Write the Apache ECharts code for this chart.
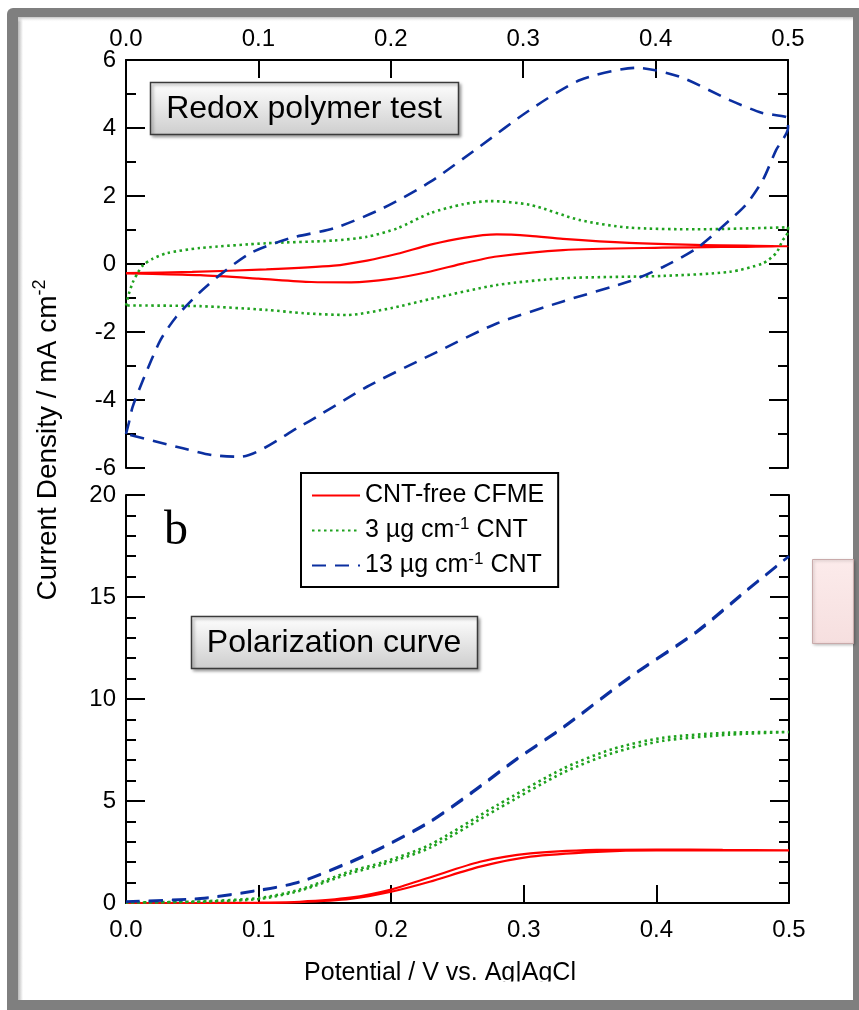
<!DOCTYPE html>
<html>
<head>
<meta charset="utf-8">
<title>Redox polymer test / Polarization curve</title>
<script src="https://cdn.jsdelivr.net/npm/echarts@6/dist/echarts.min.js"></script>
<style>html,body{margin:0;padding:0;background:#fff;}</style>
</head>
<body>
<div id="main" style="width:859px;height:1010px;"></div>
<script type="text/javascript">
// potential (V) vs. current density (mA cm^-2)
// top panel: cyclic voltammograms (forward then reverse scan)
var redCV = [[0,-0.27],[0.05,-0.23],[0.106,-0.16],[0.157,-0.05],[0.182,0.1],[0.205,0.3],[0.23,0.57],[0.255,0.77],[0.28,0.87],[0.305,0.83],[0.33,0.74],[0.38,0.62],[0.43,0.56],[0.5,0.52],
  [0.45,0.5],[0.405,0.48],[0.33,0.41],[0.28,0.22],[0.255,0.02],[0.23,-0.22],[0.2,-0.44],[0.17,-0.54],[0.14,-0.53],[0.1,-0.43],[0.056,-0.33],[0.02,-0.29],[0,-0.28]];
var greenCV = [[0,-1.22],[0.002,-0.9],[0.005,-0.55],[0.009,-0.25],[0.013,-0.03],[0.02,0.15],[0.031,0.32],[0.056,0.47],[0.106,0.61],[0.157,0.69],[0.182,0.8],[0.205,1.05],[0.23,1.5],[0.255,1.76],[0.275,1.85],[0.305,1.74],[0.343,1.29],[0.38,1.07],[0.431,1.02],[0.5,1.08],
  [0.5,0.95],[0.498,0.8],[0.496,0.7],[0.491,0.32],[0.481,0.02],[0.456,-0.23],[0.406,-0.35],[0.33,-0.42],[0.28,-0.62],[0.23,-1.03],[0.2,-1.3],[0.167,-1.5],[0.135,-1.45],[0.106,-1.35],[0.056,-1.24],[0,-1.22]];
var blueCV = [[0,-5.0],[0.002,-4.7],[0.005,-4.2],[0.013,-3.4],[0.026,-2.24],[0.038,-1.55],[0.055,-0.86],[0.07,-0.35],[0.094,0.32],[0.124,0.76],[0.157,1.05],[0.194,1.64],[0.23,2.42],[0.267,3.45],[0.305,4.53],[0.343,5.41],[0.386,5.77],[0.418,5.51],[0.456,4.82],[0.48,4.45],[0.5,4.28],
  [0.5,4.0],[0.491,3.35],[0.481,2.47],[0.469,1.78],[0.456,1.29],[0.431,0.46],[0.406,-0.08],[0.381,-0.5],[0.33,-1.1],[0.28,-1.75],[0.23,-2.68],[0.182,-3.61],[0.131,-4.79],[0.086,-5.67],[0.065,-5.62],[0.043,-5.42],[0,-5.0]];

// bottom panel: polarization curves (out and back)
var redPol = [[0,0],[0.05,0],[0.1,0.02],[0.131,0.06],[0.169,0.26],[0.2,0.66],[0.229,1.25],[0.267,2.02],[0.305,2.43],[0.355,2.6],[0.4,2.62],[0.45,2.6],[0.5,2.58],
  [0.45,2.58],[0.4,2.58],[0.355,2.51],[0.305,2.27],[0.267,1.78],[0.229,1.04],[0.2,0.55],[0.169,0.2],[0.131,0.04],[0.1,0],[0.05,0],[0,0]];
var greenPol = [[0,0.02],[0.056,0.08],[0.101,0.25],[0.131,0.66],[0.169,1.55],[0.194,2.0],[0.229,2.85],[0.28,4.8],[0.33,6.6],[0.367,7.55],[0.405,8.1],[0.455,8.35],[0.5,8.38],
  [0.455,8.25],[0.405,7.95],[0.367,7.35],[0.33,6.4],[0.28,4.6],[0.229,2.7],[0.194,1.9],[0.169,1.45],[0.131,0.6],[0.101,0.2],[0.056,0.06],[0,0.02]];
var bluePol = [[0,0.07],[0.056,0.23],[0.101,0.64],[0.131,1.04],[0.169,2.02],[0.194,2.76],[0.229,3.99],[0.26,5.4],[0.295,7.09],[0.33,8.64],[0.38,11.09],[0.43,13.3],[0.468,15.34],[0.5,17.0],
  [0.468,15.3],[0.43,13.25],[0.38,11.05],[0.33,8.6],[0.295,7.05],[0.26,5.35],[0.229,3.95],[0.194,2.73],[0.169,1.98],[0.131,1.02],[0.101,0.62],[0.056,0.21],[0,0.06]];

var names = ['CNT-free CFME', '3 µg cm-1 CNT', '13 µg cm-1 CNT'];
var colors = ['#ff0000', '#1fa21f', '#0b2fa0'];

var FONT = "'Liberation Sans', Arial, sans-serif";
var myChart = echarts.init(document.getElementById('main'));

function xAx(grid, pos, margin) {
    return {
        type: 'value', gridIndex: grid, position: pos, min: 0, max: 0.5, interval: 0.1,
        axisLine: { onZero: false, lineStyle: { color: '#000', width: 2 } },
        axisTick: { inside: true, length: 18, lineStyle: { color: '#000', width: 2 } },
        axisLabel: { formatter: function (v) { return v.toFixed(1); }, fontSize: 24, fontFamily: FONT, color: '#000', margin: margin },
        splitLine: { show: false }
    };
}
function yAx(grid, pos, min, max, step, minor, labels) {
    return {
        type: 'value', gridIndex: grid, position: pos, min: min, max: max, interval: step,
        axisLine: { onZero: false, lineStyle: { color: '#000', width: 2 } },
        axisTick: { inside: true, length: 19, lineStyle: { color: '#000', width: 2 } },
        minorTick: { show: true, splitNumber: minor, length: 10, lineStyle: { color: '#000', width: 2 } },
        axisLabel: { show: labels, fontSize: 24, fontFamily: FONT, color: '#000', margin: 10 },
        splitLine: { show: false }
    };
}
function ser(i, data, xi, yi) {
    var dash = [null, [2.5, 3.5], [14, 9]][i];
    return {
        name: names[i], type: 'line', data: data, xAxisIndex: xi, yAxisIndex: yi,
        symbol: 'none', showSymbol: false, smooth: 0.25,
        lineStyle: { color: colors[i], width: i === 0 ? 2.2 : 2.6, type: dash || 'solid' },
        itemStyle: { color: colors[i] }
    };
}

var legendFmt = {
    'CNT-free CFME': '{a|CNT-free CFME}',
    '3 µg cm-1 CNT': '{a|3 µg cm}{s|-1}{a| CNT}',
    '13 µg cm-1 CNT': '{a|13 µg cm}{s|-1}{a| CNT}'
};

option = {
    animation: false,
    backgroundColor: '#fff',
    grid: [
        { left: 126, top: 60, width: 662, height: 408 },
        { left: 126, top: 495, width: 663, height: 408 }
    ],
    xAxis: [xAx(0, 'top', 9), xAx(1, 'bottom', 15)],
    yAxis: [
        yAx(0, 'left', -6, 6, 2, 2, true), yAx(0, 'right', -6, 6, 2, 2, false),
        yAx(1, 'left', 0, 20, 5, 5, true), yAx(1, 'right', 0, 20, 5, 5, false)
    ],
    legend: {
        left: 301, top: 473, orient: 'vertical', data: names,
        backgroundColor: '#fff', borderColor: '#000', borderWidth: 2, borderRadius: 0,
        padding: [10, 14, 9, 10], itemGap: 8, itemWidth: 48, itemHeight: 14, itemTextGap: 9,
        itemStyle: { opacity: 0 },
        formatter: function (n) { return legendFmt[n]; },
        textStyle: {
            color: '#000', fontFamily: FONT,
            rich: {
                a: { fontSize: 25, lineHeight: 29, fontFamily: FONT, color: '#000' },
                s: { fontSize: 17, lineHeight: 14, verticalAlign: 'top', fontFamily: FONT, color: '#000' }
            }
        },
        selectedMode: false
    },
    series: [
        ser(0, redCV, 0, 0), ser(1, greenCV, 0, 0), ser(2, blueCV, 0, 0),
        ser(0, redPol, 1, 2), ser(1, greenPol, 1, 2), ser(2, bluePol, 1, 2)
    ],
    graphic: [
        // grey frame and the white page inside it
        { type: 'rect', z: -11, silent: true, shape: { x: 7, y: 8, width: 880, height: 1020, r: 6 }, style: { fill: '#7f7f7f' } },
        { type: 'rect', z: -10, silent: true, shape: { x: 18, y: 17, width: 835, height: 983 }, style: { fill: '#fff' } },
        { type: 'rect', z: -9, silent: true, shape: { x: 18, y: 17, width: 5, height: 983 },
          style: { fill: new echarts.graphic.LinearGradient(0, 0, 1, 0, [{ offset: 0, color: '#b8b8b8' }, { offset: 1, color: '#ffffff' }]) } },
        { type: 'rect', z: -9, silent: true, shape: { x: 18, y: 17, width: 835, height: 5 },
          style: { fill: new echarts.graphic.LinearGradient(0, 0, 0, 1, [{ offset: 0, color: '#c4c4c4' }, { offset: 1, color: 'rgba(255,255,255,0)' }]) } },
        // pink box at the right edge
        { type: 'rect', z: -8, silent: true, shape: { x: 812.5, y: 559.5, width: 41, height: 84 },
          style: { fill: new echarts.graphic.LinearGradient(0, 0, 0, 1, [{ offset: 0, color: '#fcebeb' }, { offset: 1, color: '#f6dfdf' }]),
                   stroke: '#c9aaaa', lineWidth: 1, shadowBlur: 3, shadowColor: 'rgba(0,0,0,0.25)', shadowOffsetX: 1, shadowOffsetY: 1 } },
        // panel label boxes
        { type: 'rect', z: 50, silent: true, shape: { x: 150.5, y: 82.5, width: 308, height: 52 },
          style: { fill: new echarts.graphic.LinearGradient(0, 0, 0, 1, [{ offset: 0, color: '#ffffff' }, { offset: 1, color: '#cdcdcd' }]),
                   stroke: '#3a3a3a', lineWidth: 1.5, shadowBlur: 3, shadowColor: 'rgba(0,0,0,0.35)', shadowOffsetX: 2, shadowOffsetY: 2 } },
        { type: 'text', z: 51, silent: true, x: 304, y: 109,
          style: { text: 'Redox polymer test', font: '32px ' + FONT, fill: '#000', align: 'center', verticalAlign: 'middle' } },
        { type: 'rect', z: 50, silent: true, shape: { x: 191.5, y: 616.5, width: 286, height: 52 },
          style: { fill: new echarts.graphic.LinearGradient(0, 0, 0, 1, [{ offset: 0, color: '#ffffff' }, { offset: 1, color: '#cdcdcd' }]),
                   stroke: '#3a3a3a', lineWidth: 1.5, shadowBlur: 3, shadowColor: 'rgba(0,0,0,0.35)', shadowOffsetX: 2, shadowOffsetY: 2 } },
        { type: 'text', z: 51, silent: true, x: 334, y: 643,
          style: { text: 'Polarization curve', font: '32px ' + FONT, fill: '#000', align: 'center', verticalAlign: 'middle' } },
        // panel letter
        { type: 'text', z: 51, silent: true, x: 164, y: 555,
          style: { text: 'b', font: "48px 'Liberation Serif', 'Times New Roman', serif", fill: '#000', align: 'left', verticalAlign: 'bottom' } },
        // shared y-axis title
        { type: 'text', z: 51, silent: true, x: 48, y: 440, rotation: Math.PI / 2,
          style: { text: '{a|Current Density / mA cm}{s|-2}', align: 'center', verticalAlign: 'middle',
                   rich: { a: { fontSize: 28, lineHeight: 34, fontFamily: FONT, fill: '#000' },
                           s: { fontSize: 18, lineHeight: 18, verticalAlign: 'top', fontFamily: FONT, fill: '#000' } } } },
        // x-axis title (bottom edge cut off in the original)
        { type: 'text', z: 51, silent: true, x: 440, y: 986,
          style: { text: 'Potential / V vs. Ag|AgCl', font: '25px ' + FONT, fill: '#000', align: 'center', verticalAlign: 'bottom' } },
        { type: 'rect', z: 52, silent: true, shape: { x: 250, y: 981.5, width: 400, height: 18.5 }, style: { fill: '#fff' } }
    ]
};

myChart.setOption(option);
</script>
</body>
</html>
